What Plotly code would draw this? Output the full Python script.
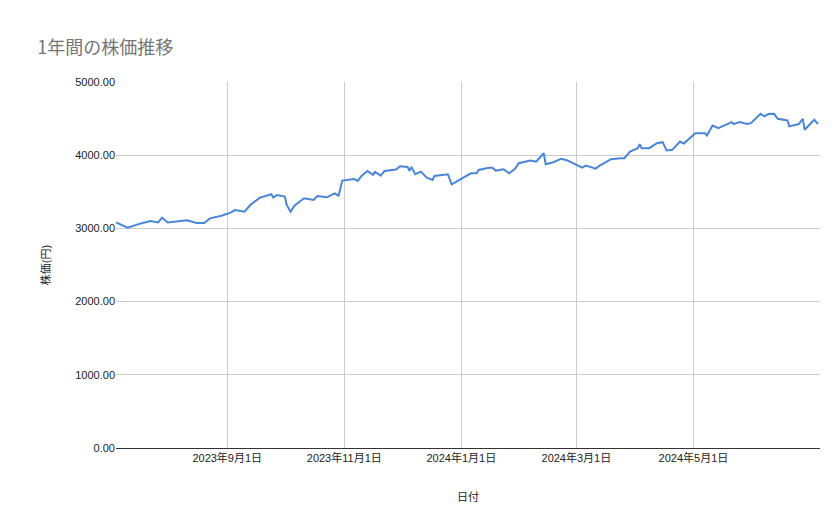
import pandas as pd
import plotly.graph_objects as go

start_date = "2023-07-05"
day_offsets = [0, 6, 13, 18, 22, 24, 27, 32, 37, 42, 46, 49, 55, 60, 62, 67, 70, 75, 81, 82,
               84, 88, 89, 91, 93, 98, 103, 105, 110, 114, 116, 118, 124, 126, 128, 131, 134, 135,
               138, 140, 146, 148, 152, 153, 154, 156, 159, 162, 165, 166, 173, 175, 180, 183,
               185, 188, 189, 193, 196, 198, 202, 205, 208, 210, 216, 219, 223, 224, 228, 232,
               235, 239, 243, 245, 250, 252, 258, 263, 265, 268, 272, 273, 274, 278, 282, 285,
               287, 290, 294, 296, 302, 307, 308, 311, 314, 316, 321, 322, 325, 329, 331, 336,
               338, 340, 343, 345, 350, 351, 356, 358, 359, 364, 366]
prices = [3082, 3009, 3068, 3100, 3082, 3146, 3082, 3091, 3110, 3073, 3073, 3137, 3173, 3219, 3251,
          3228, 3320, 3420, 3466, 3420, 3457, 3434, 3320, 3228, 3311, 3411, 3388, 3443, 3425, 3479,
          3447, 3653, 3676, 3648, 3717, 3785, 3731, 3772, 3721, 3785, 3804, 3849, 3840, 3785, 3840,
          3740, 3776, 3694, 3662, 3717, 3740, 3603, 3676, 3717,
          3753, 3753, 3799, 3822, 3831, 3790, 3808, 3753, 3813, 3890, 3927, 3913, 4027, 3877, 3904,
          3950, 3932, 3881, 3831, 3858, 3817, 3854, 3945, 3959, 3959, 4050, 4096, 4151, 4096, 4096,
          4164, 4178, 4064, 4073, 4187, 4160, 4301, 4301, 4269, 4406, 4370, 4393, 4452, 4425, 4452,
          4425, 4438, 4566, 4530, 4562, 4566, 4498, 4475, 4393, 4425, 4498, 4347, 4484, 4425]
tick_dates = ["2023-09-01", "2023-11-01", "2024-01-01", "2024-03-01", "2024-05-01"]
tick_labels = ["2023年9月1日", "2023年11月1日", "2024年1月1日", "2024年3月1日", "2024年5月1日"]

dates = pd.to_datetime(start_date) + pd.to_timedelta(day_offsets, unit="D")

fig = go.Figure(go.Scatter(x=dates, y=prices, mode="lines",
                           line=dict(color="#4a86d8", width=2)))

fig.update_layout(
    width=839, height=519,
    paper_bgcolor="white", plot_bgcolor="white",
    font=dict(family="Liberation Sans, Noto Sans CJK JP", size=11, color="#222"),
    title=dict(text="1年間の株価推移", x=0.035, y=0.935, xanchor="left",
               font=dict(family="Noto Sans CJK JP", size=18, color="#757575")),
    margin=dict(l=108, r=27, t=74, b=79),
    showlegend=False,
)
fig.update_xaxes(
    range=["2023-07-05", "2024-07-06"], automargin=False,
    tickvals=tick_dates, ticktext=tick_labels,
    showgrid=True, gridcolor="#cccccc",
    showline=True, linecolor="#333", ticks="",
    title=dict(text="日付", font=dict(size=11), standoff=30),
)
fig.update_yaxes(
    range=[0, 5000], dtick=1000, tickformat=".2f", automargin=False,
    showgrid=True, gridcolor="#cccccc", zeroline=False,
    title=dict(text="株価(円)", font=dict(size=11), standoff=22),
)

fig.write_html("out.html")
